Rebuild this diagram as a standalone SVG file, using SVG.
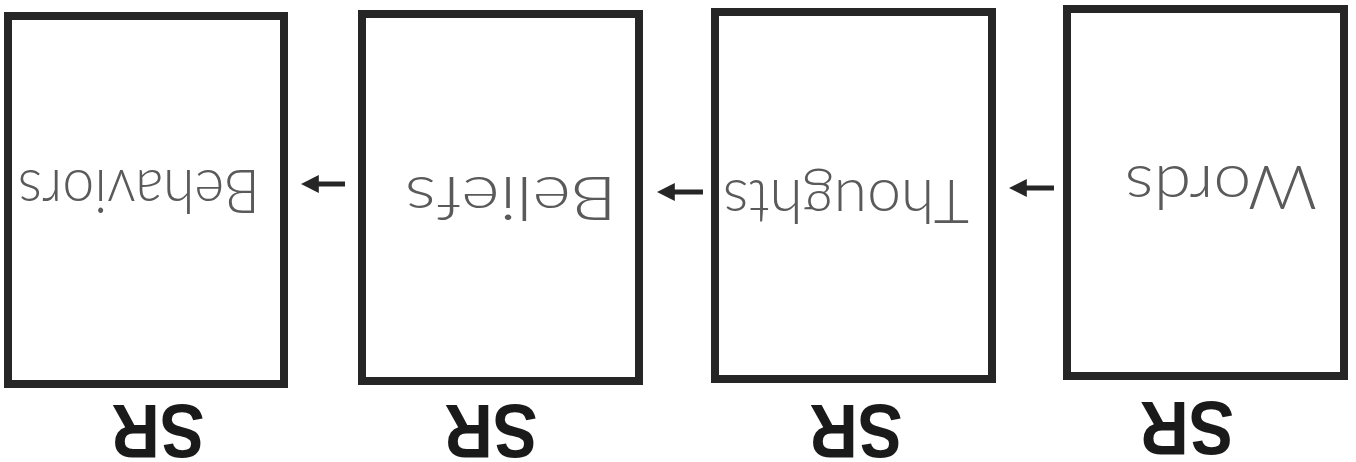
<svg xmlns="http://www.w3.org/2000/svg" width="1356" height="462" viewBox="0 0 1356 462">
<style>
.box{fill:#fff;stroke:#262626;stroke-width:8}
.hand{font-family:Lato,"DejaVu Sans",sans-serif;font-weight:300;font-size:62px;fill:#5a5a5a;text-anchor:middle}
.sr{font-family:"Liberation Sans",Arial,sans-serif;font-weight:bold;font-size:76px;fill:#1a1a1a;text-anchor:middle}
.conn{stroke:#262626;stroke-width:5;fill:none}
</style>
<defs>
<marker id="ah" viewBox="0 0 10 10" refX="1" refY="5" markerWidth="3.6" markerHeight="3.6" markerUnits="strokeWidth" orient="auto">
<path d="M0,0 L10,5 L0,10 Z" fill="#262626"/>
</marker>
</defs>
<rect width="1356" height="462" fill="#fff"/>
<g id="node-behaviors">
<rect class="box" x="8" y="16" width="276" height="368"/>
<text class="hand" transform="translate(139,170) rotate(180)" textLength="242" lengthAdjust="spacingAndGlyphs">Behaviors</text>
<text class="sr" transform="translate(158,405) rotate(180)" textLength="93" lengthAdjust="spacingAndGlyphs">SR</text>
</g>
<g id="node-beliefs">
<rect class="box" x="362" y="14" width="277" height="367"/>
<text class="hand" transform="translate(511,177) rotate(180)" textLength="212" lengthAdjust="spacingAndGlyphs">Beliefs</text>
<text class="sr" transform="translate(491,405) rotate(180)" textLength="93" lengthAdjust="spacingAndGlyphs">SR</text>
</g>
<g id="node-thoughts">
<rect class="box" x="715" y="12" width="277" height="367"/>
<text class="hand" transform="translate(846,180) rotate(180)" textLength="246" lengthAdjust="spacingAndGlyphs">Thoughts</text>
<text class="sr" transform="translate(856,405) rotate(180)" textLength="93" lengthAdjust="spacingAndGlyphs">SR</text>
</g>
<g id="node-words">
<rect class="box" x="1067" y="9" width="277" height="367"/>
<text class="hand" transform="translate(1221,166) rotate(180)" textLength="192" lengthAdjust="spacingAndGlyphs">Words</text>
<text class="sr" transform="translate(1187,402) rotate(180)" textLength="94" lengthAdjust="spacingAndGlyphs">SR</text>
</g>
<g id="connectors">
<line class="conn" x1="345" y1="184" x2="317" y2="184" marker-end="url(#ah)"/>
<line class="conn" x1="703" y1="192" x2="673" y2="192" marker-end="url(#ah)"/>
<line class="conn" x1="1054" y1="188" x2="1025" y2="188" marker-end="url(#ah)"/>
</g>
</svg>
